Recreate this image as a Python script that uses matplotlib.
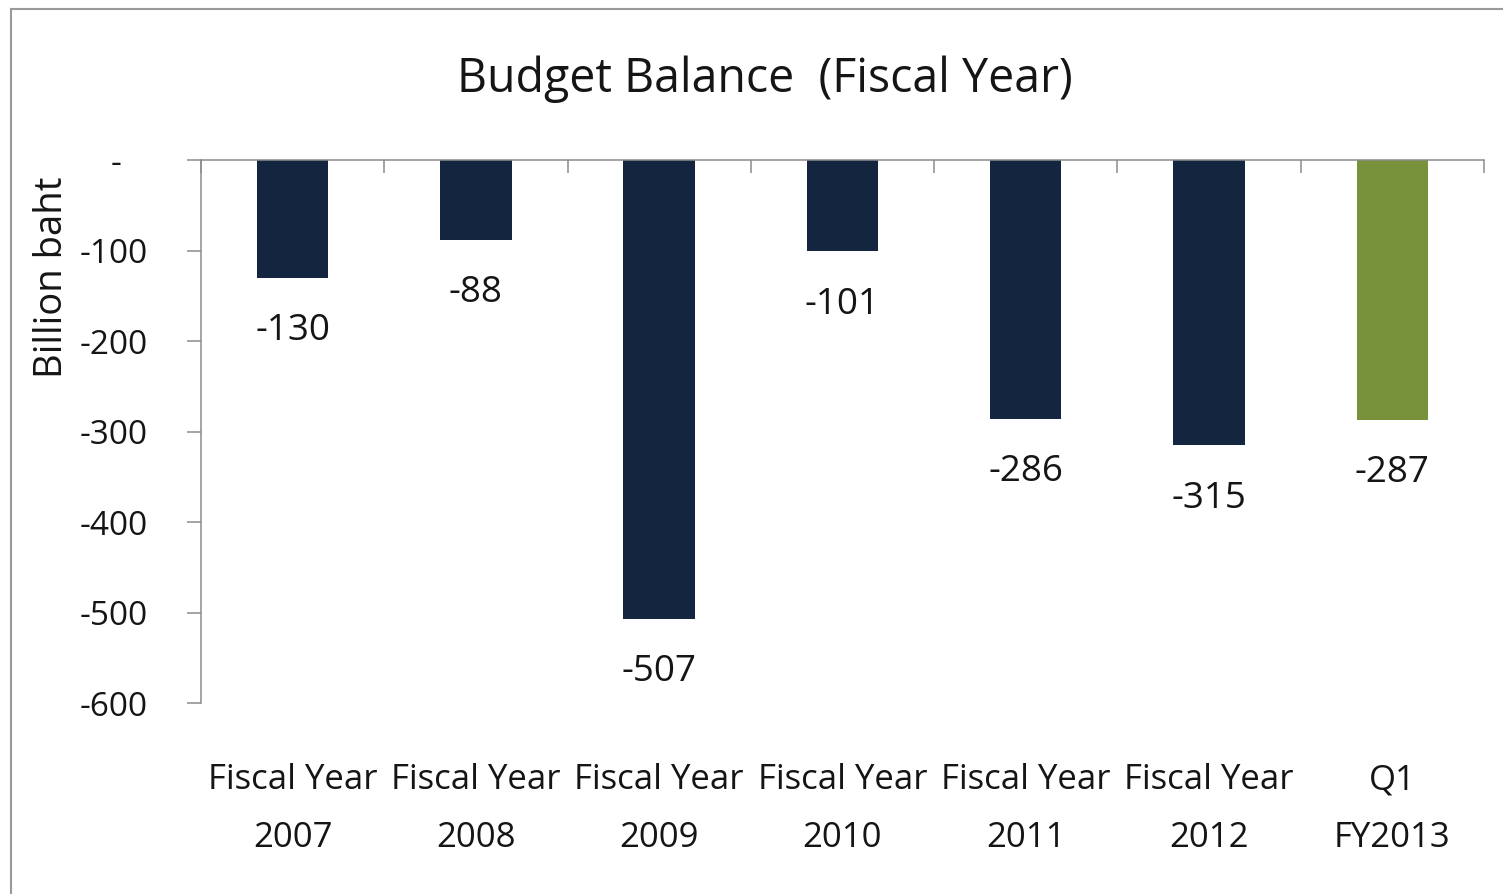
import matplotlib
matplotlib.use('Agg')
import matplotlib.pyplot as plt
from matplotlib.patches import Rectangle
from matplotlib.transforms import blended_transform_factory
import numpy as np

plt.rcParams['font.family'] = ['Open Sans', 'DejaVu Sans']

# budget balance, billion baht
categories = ['Fiscal Year\n2007', 'Fiscal Year\n2008', 'Fiscal Year\n2009',
              'Fiscal Year\n2010', 'Fiscal Year\n2011', 'Fiscal Year\n2012',
              'Q1\nFY2013']
balance = [-130, -88, -507, -101, -286, -315, -287]
bar_colors = ['#13253f'] * 6 + ['#77923b']
y_ticks = [0, -100, -200, -300, -400, -500, -600]

axis_grey = '#8c8c8c'
text_col = '#151515'

fig = plt.figure(figsize=(15.03, 8.94), dpi=100)
ax = fig.add_axes([0.1337, 0.2136, 0.8536, 0.6074])

ind = np.arange(len(categories))
ax.bar(ind, balance, width=0.39, color=bar_colors, zorder=2)

ax.set_xlim(-0.5, len(categories) - 0.5)
ax.set_ylim(-600, 0)

# value labels under each bar
for x, v in zip(ind, balance):
  ax.annotate('%d' % v, (x, v), xytext=(0, -38.5), textcoords='offset points',
              ha='center', va='center', fontsize=26.5, color=text_col)

# y axis: accounting style dash for zero
ax.set_yticks(y_ticks)
ax.set_yticklabels(['-   ' if t == 0 else '%d' % t for t in y_ticks])
ax.tick_params(axis='y', direction='out', length=10, width=1.1, color=axis_grey,
               labelsize=24, pad=28, labelcolor=text_col)

# category axis sits at zero (top), ticks between the categories
ax.xaxis.set_ticks_position('top')
ax.set_xticks(np.arange(-0.5, len(categories), 1.0))
ax.set_xticklabels([])
ax.tick_params(axis='x', direction='in', length=9, width=1.1, color=axis_grey)

for side in ['right', 'bottom']:
  ax.spines[side].set_visible(False)
for side in ['left', 'top']:
  ax.spines[side].set_color(axis_grey)
  ax.spines[side].set_linewidth(1.1)

# category names drawn below the plot area
trans = blended_transform_factory(ax.transData, ax.transAxes)
for x, cat in zip(ind, categories):
  line1, line2 = cat.split('\n')
  ax.text(x, -0.142, line1, transform=trans, ha='center', va='center',
          fontsize=25, color=text_col, clip_on=False)
  ax.text(x, -0.249, line2, transform=trans, ha='center', va='center',
          fontsize=25, color=text_col, clip_on=False)

ax.set_ylabel('Billion baht', fontsize=27.5, color=text_col)
ax.yaxis.set_label_coords(-0.101, 0.785)

fig.text(0.509, 0.911, 'Budget Balance  (Fiscal Year)', ha='center', va='center',
         fontsize=33.5, color=text_col)

# chart border
fig.add_artist(Rectangle((0.0073, -0.5), 1.2, 0.9899 + 0.5, transform=fig.transFigure,
                         fill=False, edgecolor='#9a9a9a', linewidth=1.5))

fig.savefig('out.png', dpi=100)
